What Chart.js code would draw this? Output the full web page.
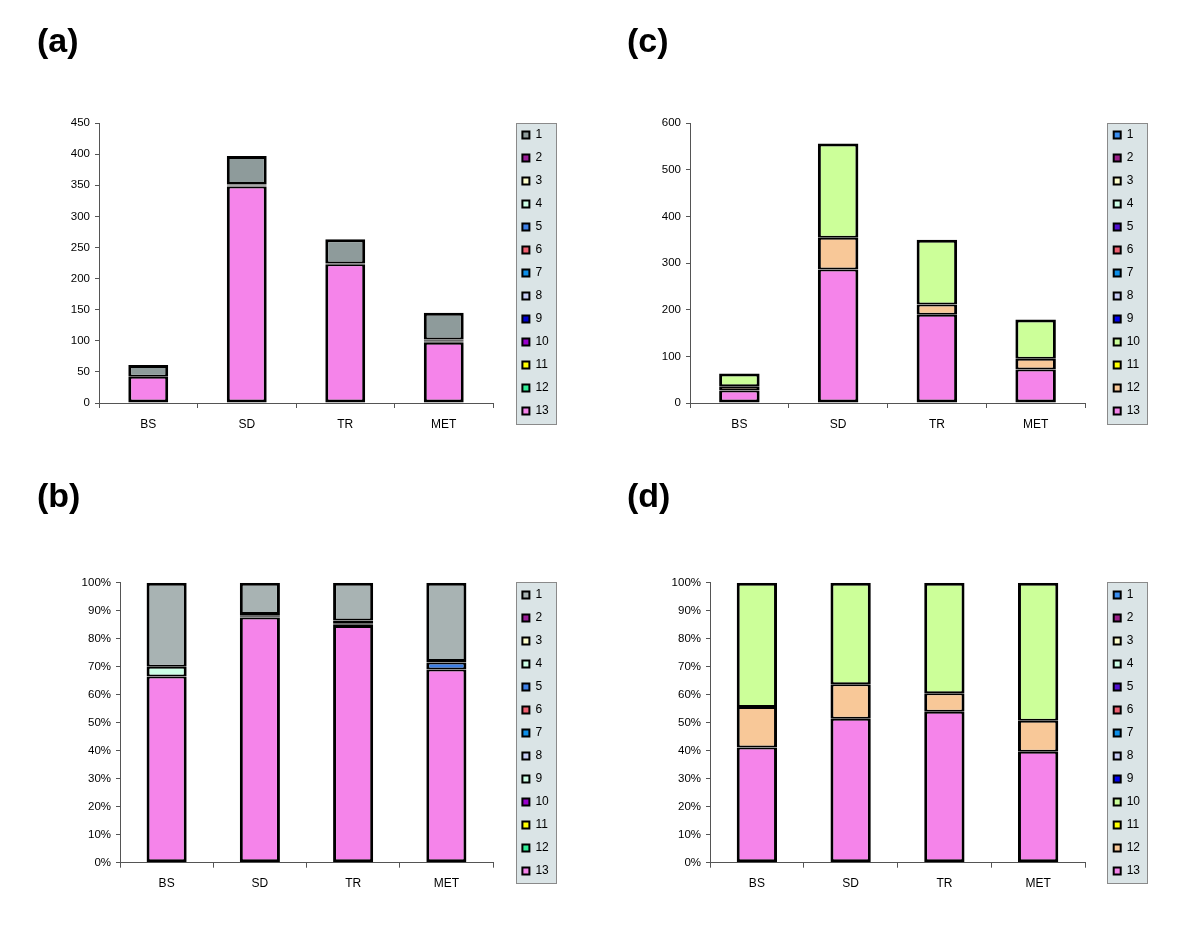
<!DOCTYPE html>
<html>
<head>
<meta charset="utf-8">
<script src="https://cdn.jsdelivr.net/npm/chart.js@4/dist/chart.umd.min.js"></script>
<style>
  html, body { margin: 0; padding: 0; background: #fff; width: 1200px; height: 936px; overflow: hidden; }
  canvas { position: absolute; display: block; }
</style>
</head>
<body>
<canvas id="ca" width="600" height="460" style="left:0px;top:0px;width:600px;height:460px"></canvas>
<canvas id="cc" width="600" height="460" style="left:600px;top:0px;width:600px;height:460px"></canvas>
<canvas id="cb" width="600" height="481" style="left:0px;top:455px;width:600px;height:481px"></canvas>
<canvas id="cd" width="600" height="481" style="left:600px;top:455px;width:600px;height:481px"></canvas>
<script>
// ---------------- data ----------------
const categories = ['BS', 'SD', 'TR', 'MET'];
const seriesNames = ['1', '2', '3', '4', '5', '6', '7', '8', '9', '10', '11', '12', '13'];

const ticksCountA = [0, 50, 100, 150, 200, 250, 300, 350, 400, 450];
const ticksCountC = [0, 100, 200, 300, 400, 500, 600];
const ticksPercent = [0, 10, 20, 30, 40, 50, 60, 70, 80, 90, 100];

// panel (a): counts, one row per series 1..13, columns BS, SD, TR, MET
const countsA = [
  [19, 45, 39, 43],   // 1
  [0, 1, 1, 1],       // 2
  [0, 1, 0, 0],       // 3
  [0, 0, 0, 0],       // 4
  [0, 0, 0, 2],       // 5
  [0, 1, 0, 1],       // 6
  [0, 0, 0, 0],       // 7
  [0, 0, 0, 0],       // 8
  [0, 0, 0, 0],       // 9
  [0, 1, 0, 1],       // 10
  [0, 0, 0, 0],       // 11
  [0, 0, 0, 0],       // 12
  [42, 348, 223, 97]  // 13
];

// panel (b): percentages
const percentB = [
  [30.0, 11.2, 13.5, 28.0],  // 1
  [0, 0.4, 0.5, 0.5],        // 2
  [0, 0, 0.5, 0],            // 3
  [3.5, 0, 0, 0],            // 4
  [0, 0, 0, 2.5],            // 5
  [0, 0.4, 0.5, 0],          // 6
  [0, 0, 0, 0],              // 7
  [0, 0, 0, 0],              // 8
  [0, 0, 0, 0],              // 9
  [0, 0.4, 0.5, 0],          // 10
  [0, 0, 0, 0],              // 11
  [0, 0, 0, 0],              // 12
  [66.5, 87.6, 84.5, 69.0]   // 13
];

// panel (c): counts
const countsC = [
  [0, 0, 0, 0],        // 1
  [0, 0, 0, 0],        // 2
  [0, 0, 0, 0],        // 3
  [0, 0, 0, 0],        // 4
  [0, 0, 0, 0],        // 5
  [0, 0, 0, 0],        // 6
  [0, 0, 0, 0],        // 7
  [0, 0, 0, 0],        // 8
  [0, 0, 0, 0],        // 9
  [27, 202, 139, 84],  // 10
  [0, 0, 0, 0],        // 11
  [9, 68, 22, 23],     // 12
  [27, 286, 189, 72]   // 13
];

// panel (d): percentages
const percentD = [
  [0, 0, 0, 0],              // 1
  [0, 0, 0, 0],              // 2
  [0, 0, 0, 0],              // 3
  [0, 0, 0, 0],              // 4
  [0, 0, 0, 0],              // 5
  [0, 0, 0, 0],              // 6
  [0, 0, 0, 0],              // 7
  [0, 0, 0, 0],              // 8
  [0, 0, 0, 0],              // 9
  [44.4, 36.3, 39.5, 49.3],  // 10
  [0, 0, 0, 0],              // 11
  [14.5, 12.3, 6.6, 11.1],   // 12
  [41.1, 51.4, 53.9, 39.6]   // 13
];

// ---------------- colours ----------------
const coloursA = ['#8e9b9b', '#9b1f99', '#ffffcc', '#ccffe6', '#3d7fe6', '#ee5f70', '#0c8ee8',
                  '#c6cdf5', '#0000d0', '#9900cc', '#ffff00', '#33ee99', '#f584ea'];
const coloursB = ['#a8b3b3', '#9b1f99', '#ffffcc', '#ccffe6', '#3d7fe6', '#ee5f70', '#0c8ee8',
                  '#c6cdf5', '#ccffe6', '#9900cc', '#ffff00', '#33ee99', '#f584ea'];
const coloursCD = ['#3a8ef0', '#991f88', '#ffffcc', '#ccffe6', '#5010d0', '#ee5f70', '#0c8ee8',
                   '#c6cdf5', '#0000ee', '#ccff99', '#ffff00', '#f8c898', '#f584ea'];

// ---------------- rendering ----------------
const FONT = "'Liberation Sans', Arial, Helvetica, sans-serif";
const AXIS = '#555555';
Chart.defaults.font.family = FONT;
Chart.defaults.color = '#000';
Chart.defaults.animation = false;

const OUTER = 3, INNER = 2;
function segBorder(ctx) {
  if (ctx.type !== 'data') return OUTER;
  const dss = ctx.chart.data.datasets;
  const i = ctx.dataIndex;
  let top = -1;
  dss.forEach((d, j) => { if (d.data[i] != null) top = j; });
  return {
    left: OUTER, right: OUTER,
    top: ctx.datasetIndex === top ? OUTER : INNER,
    bottom: ctx.datasetIndex === 0 ? OUTER : INNER
  };
}

const legendBox = {
  id: 'legendBox',
  beforeDraw(chart) {
    const L = chart.legend;
    if (!L) return;
    const ca = chart.chartArea;
    const c = chart.ctx;
    const x = Math.round(L.left + 4.6) + 0.5;
    const y = Math.round(ca.top - 0.5) + 0.5;
    c.save();
    c.fillStyle = '#dae4e6';
    c.fillRect(x, y, 40, 301);
    c.strokeStyle = '#8a8a8a';
    c.lineWidth = 1;
    c.strokeRect(x, y, 40, 301);
    c.restore();
  }
};

function makeChart(id, title, rows, colours, ticks, pct, g) {
  const datasets = [];
  for (let s = rows.length - 1; s >= 0; s--) {
    datasets.push({
      label: seriesNames[s],
      data: rows[s].map(v => (v === 0 ? null : v)),
      backgroundColor: colours[s],
      borderColor: '#000',
      borderWidth: segBorder,
      borderSkipped: false,
      inflateAmount: 0,
      yAxisID: 'y',
      barPercentage: g.barPct,
      categoryPercentage: 1
    });
  }
  return new Chart(document.getElementById(id), {
    type: 'bar',
    data: { labels: categories, datasets },
    plugins: [legendBox],
    options: {
      responsive: false,
      animation: false,
      layout: { padding: { left: g.padL, right: g.padR, top: 0, bottom: 0 } },
      plugins: {
        tooltip: { enabled: false },
        title: {
          display: true, text: title, align: 'start', color: '#000',
          font: { size: 34, weight: 'bold', family: FONT, lineHeight: 1.2 },
          padding: { top: g.titleTop, bottom: g.titleBottom }
        },
        legend: {
          display: true, position: 'right', align: 'start', fullSize: true, reverse: true, maxWidth: 40,
          title: { display: true, text: ' ', font: { size: 12, lineHeight: 1.2 }, padding: { top: g.legTitleH - 14.4, bottom: 0 } },
          labels: {
            boxWidth: 7, boxHeight: 7, padding: 11, color: '#000',
            font: { size: 12, family: FONT },
            generateLabels(chart) {
              const items = Chart.defaults.plugins.legend.labels.generateLabels(chart);
              items.forEach(it => { it.lineWidth = 2; it.strokeStyle = '#000'; });
              return items;
            }
          }
        }
      },
      scales: {
        x: {
          type: 'category', stacked: true, offset: true,
          grid: { display: true, offset: true, drawOnChartArea: false, drawTicks: true, tickLength: 5, tickColor: AXIS },
          border: { display: true, color: AXIS, width: 1 },
          ticks: { color: '#000', font: { size: 12, family: FONT }, padding: 9, maxRotation: 0, autoSkip: false },
          afterFit: s => { s.height = g.xH; }
        },
        y: {
          type: 'linear', stacked: true, min: ticks[0], max: ticks[ticks.length - 1],
          afterBuildTicks: s => { s.ticks = ticks.map(v => ({ value: v })); },
          grid: { display: true, drawOnChartArea: false, drawTicks: true, tickLength: 4, tickColor: AXIS },
          border: { display: true, color: AXIS, width: 1 },
          ticks: { color: '#000', font: { size: 11.5, family: FONT }, padding: 5,
                   callback: v => (pct ? v + '%' : String(v)) },
          afterFit: s => { s.width = g.yW; }
        },
        y2: {
          type: 'linear', position: 'right', display: true,
          grid: { display: false }, border: { display: false }, ticks: { display: false },
          afterFit: s => { s.width = g.y2W; }
        }
      }
    }
  });
}

makeChart('ca', '(a)', countsA, coloursA, ticksCountA, false,
  { padL: 37, yW: 62, titleTop: 22.6, titleBottom: 59.6, xH: 57, padR: 48.6, y2W: 18.4, legTitleH: 118, barPct: 0.405 });
makeChart('cc', '(c)', countsC, coloursCD, ticksCountC, false,
  { padL: 27, yW: 63, titleTop: 22.6, titleBottom: 59.6, xH: 57, padR: 57.3, y2W: 17.7, legTitleH: 118, barPct: 0.41 });
makeChart('cb', '(b)', percentB, coloursB, ticksPercent, true,
  { padL: 37, yW: 83, titleTop: 22.6, titleBottom: 64.3, xH: 73.3, padR: 48.6, y2W: 18.4, legTitleH: 123, barPct: 0.43 });
makeChart('cd', '(d)', percentD, coloursCD, ticksPercent, true,
  { padL: 27, yW: 83, titleTop: 22.6, titleBottom: 64.3, xH: 73.3, padR: 57.3, y2W: 17.7, legTitleH: 123, barPct: 0.43 });
</script>
</body>
</html>
